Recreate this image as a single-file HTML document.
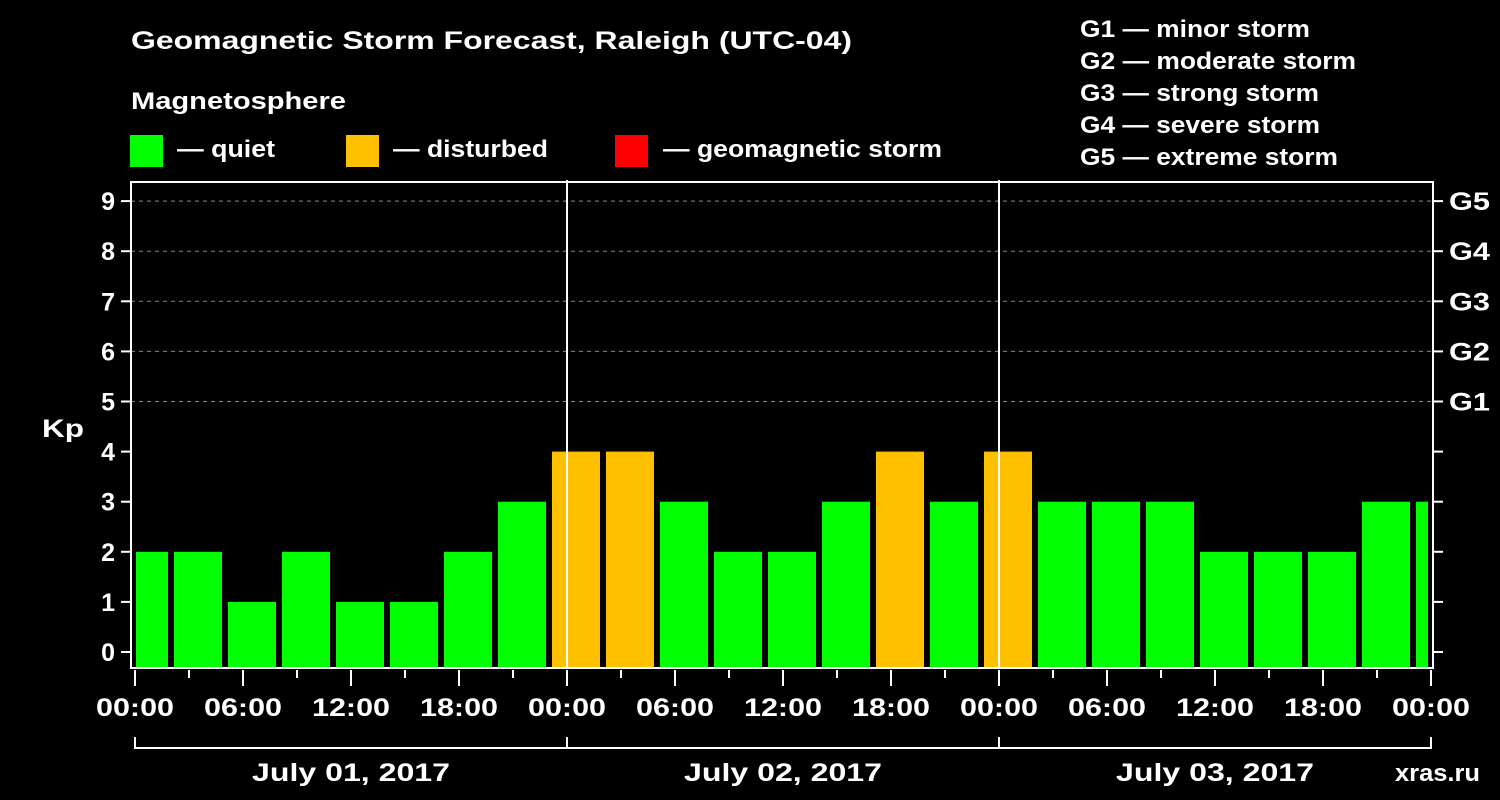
<!DOCTYPE html>
<html><head><meta charset="utf-8"><style>
html,body{margin:0;padding:0;background:#000;}
svg{display:block;font-family:"Liberation Sans",Arial,sans-serif;font-weight:bold;}
</style></head><body>
<svg id="chart" width="1500" height="800" viewBox="0 0 1500 800">
<text x="131" y="49" fill="#fff" font-size="25" textLength="721" lengthAdjust="spacingAndGlyphs">Geomagnetic Storm Forecast, Raleigh (UTC-04)</text>
<text x="131" y="109" fill="#fff" font-size="24" textLength="215" lengthAdjust="spacingAndGlyphs">Magnetosphere</text>
<g><rect x="130" y="135" width="33" height="32" fill="#00ff00"/><text x="177" y="157" fill="#fff" font-size="24" textLength="98" lengthAdjust="spacingAndGlyphs">— quiet</text></g>
<g><rect x="346" y="135" width="33" height="32" fill="#ffc000"/><text x="393" y="157" fill="#fff" font-size="24" textLength="155" lengthAdjust="spacingAndGlyphs">— disturbed</text></g>
<g><rect x="615" y="135" width="33" height="32" fill="#ff0000"/><text x="663" y="157" fill="#fff" font-size="24" textLength="279" lengthAdjust="spacingAndGlyphs">— geomagnetic storm</text></g>
<g fill="#fff" font-size="24">
<text x="1080" y="37" textLength="230" lengthAdjust="spacingAndGlyphs">G1 — minor storm</text>
<text x="1080" y="69" textLength="276" lengthAdjust="spacingAndGlyphs">G2 — moderate storm</text>
<text x="1080" y="101" textLength="239" lengthAdjust="spacingAndGlyphs">G3 — strong storm</text>
<text x="1080" y="133" textLength="240" lengthAdjust="spacingAndGlyphs">G4 — severe storm</text>
<text x="1080" y="165" textLength="258" lengthAdjust="spacingAndGlyphs">G5 — extreme storm</text>
</g>
<text x="42" y="437" fill="#fff" font-size="25" textLength="42" lengthAdjust="spacingAndGlyphs">Kp</text>
<text x="1395" y="781" fill="#fff" font-size="24" textLength="85" lengthAdjust="spacingAndGlyphs">xras.ru</text>
<g id="plot"></g>
</svg>
<script>
const kpValues=[2,2,1,2,1,1,2,3,4,4,3,2,2,3,4,3,4,3,3,3,2,2,2,3,3];
const yTicks=[0,1,2,3,4,5,6,7,8,9];
const gLabels=["G1","G2","G3","G4","G5"];
const xTickLabels=["00:00","06:00","12:00","18:00","00:00","06:00","12:00","18:00","00:00","06:00","12:00","18:00","00:00"];
const dayLabels=["July 01, 2017","July 02, 2017","July 03, 2017"];
const NS="http://www.w3.org/2000/svg";
const g=document.getElementById('plot');
const L=131,R=1433,T=182,B=668,X0=135,PXH=18;
const y=k=>652-50.1*k;
const x=h=>X0+h*PXH;
function mk(t,a,p){const e=document.createElementNS(NS,t);for(const k in a)e.setAttribute(k,a[k]);(p||g).appendChild(e);return e;}
yTicks.forEach(k=>{if(k>=5){const ln=mk('line',{x1:L,x2:R,y1:y(k),y2:y(k),stroke:'#888','stroke-dasharray':'4,4','stroke-width':1});

}});
kpValues.forEach((v,i)=>{let h0=-1+3*i,h1=h0+3;let x0=Math.max(x(h0)+3,L+5),x1=Math.min(x(h1)-3,R-5);
const r=mk('rect',{x:x0,y:y(v),width:Math.max(0,x1-x0),height:B-y(v),fill:v>=5?'#ff0000':(v>=4?'#ffc000':'#00ff00')});

});
[1,2].forEach(d=>{const ln=mk('line',{x1:x(24*d),x2:x(24*d),y1:180,y2:B,stroke:'#fff','stroke-width':2});

});
const fr=mk('rect',{x:L,y:T,width:R-L,height:B-T,fill:'none',stroke:'#fff','stroke-width':2});


yTicks.forEach(k=>{mk('line',{x1:121,x2:L,y1:y(k),y2:y(k),stroke:'#fff','stroke-width':2});
mk('line',{x1:R,x2:1443,y1:y(k),y2:y(k),stroke:'#fff','stroke-width':2});
const t=mk('text',{x:115,y:y(k)+9,fill:'#fff','font-size':25,'text-anchor':'end'});t.textContent=k;

});
gLabels.forEach((s,i)=>{const t=mk('text',{x:1449,y:y(5+i)+9,fill:'#fff','font-size':25,textLength:41,lengthAdjust:'spacingAndGlyphs'});t.textContent=s;

});
for(let h=0;h<=72;h+=3){const major=h%6===0;mk('line',{x1:x(h),x2:x(h),y1:670,y2:major?686:678,stroke:'#fff','stroke-width':2});}
xTickLabels.forEach((s,i)=>{const t=mk('text',{x:x(6*i)-39,y:716,fill:'#fff','font-size':25,textLength:78,lengthAdjust:'spacingAndGlyphs'});t.textContent=s;

});
mk('line',{x1:x(0),x2:x(72),y1:748,y2:748,stroke:'#fff','stroke-width':2});
for(let d=0;d<=3;d++)mk('line',{x1:x(24*d),x2:x(24*d),y1:737,y2:749,stroke:'#fff','stroke-width':2});
dayLabels.forEach((s,i)=>{const t=mk('text',{x:x(24*i+12)-99,y:781,fill:'#fff','font-size':25,textLength:198,lengthAdjust:'spacingAndGlyphs'});t.textContent=s;

});
</script>
</body></html>
